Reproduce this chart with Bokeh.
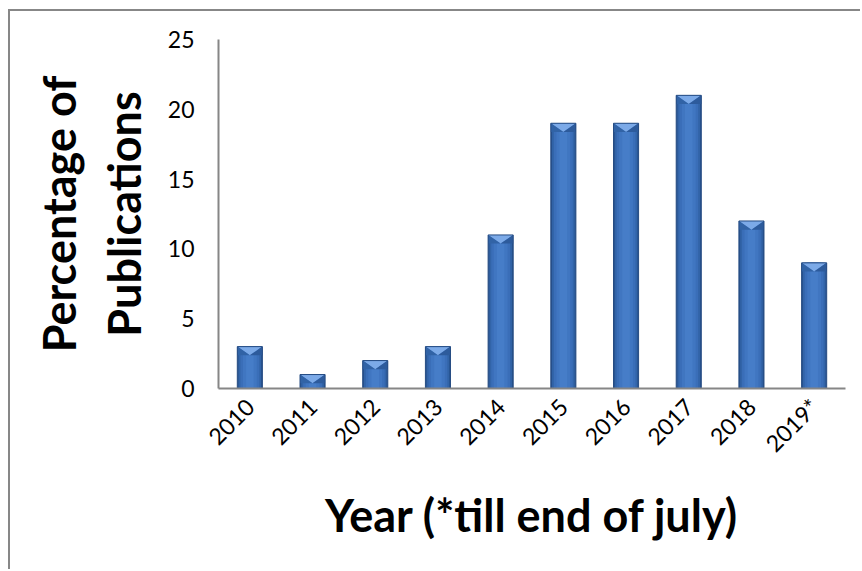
from bokeh.plotting import figure
from bokeh.models import FixedTicker, Range1d
from bokeh.embed import file_html
from bokeh.resources import INLINE
import math

years = ["2010", "2011", "2012", "2013", "2014", "2015", "2016", "2017", "2018", "2019*"]
percent = [3, 1, 2, 3, 11, 19, 19, 21, 12, 9]
y_ticks = [0, 5, 10, 15, 20, 25]

xs = list(range(1, len(years) + 1))

p = figure(width=852, height=560, output_backend="svg", toolbar_location=None,
           x_range=Range1d(0.5, len(years) + 0.5), y_range=Range1d(0, 25),
           min_border_left=208, min_border_right=17, min_border_top=28, min_border_bottom=183)
p.styles = {"border-left": "2px solid #878787", "border-top": "2px solid #878787",
            "margin-left": "8px", "margin-top": "9px"}
p.outline_line_color = None
p.xgrid.grid_line_color = None
p.ygrid.grid_line_color = None
p.background_fill_color = "white"
p.border_fill_color = "white"

# bars: layered to imitate the shaded cylinder look
bw = 0.4
layers = [(0.40, "#27518C"), (0.36, "#3264A8"), (0.30, "#3A6EB8"), (0.22, "#4076C1"), (0.12, "#467DC8")]
for w, c in layers:
    p.vbar(x=xs, top=percent, width=w, bottom=0, fill_color=c, line_color=None)

# top bevel
d = 0.62
tri_x = [[x - bw / 2, x + bw / 2, x] for x in xs]
tri_y = [[v, v, max(v - d, 0)] for v in percent]
p.patches(tri_x, tri_y, fill_color="#7CAAE8", line_color=None)
left_x = [[x - bw / 2, x, x - bw / 2] for x in xs]
left_y = [[v, max(v - d, 0), max(v - d, 0)] for v in percent]
p.patches(left_x, left_y, fill_color="#3163A6", line_color=None)
right_x = [[x + bw / 2, x, x + bw / 2] for x in xs]
p.patches(right_x, left_y, fill_color="#2D5B9C", line_color=None)
p.vbar(x=xs, top=percent, width=bw, bottom=0, fill_color=None, line_color="#264C83", line_width=1)

# axes
p.yaxis.ticker = FixedTicker(ticks=y_ticks)
p.xaxis.ticker = FixedTicker(ticks=xs)
p.xaxis.major_label_overrides = {x: y for x, y in zip(xs, years)}
p.xaxis.major_label_orientation = math.pi / 4
for ax in (p.xaxis, p.yaxis):
    ax.axis_line_color = "#868686"
    ax.axis_line_width = 2
    ax.major_tick_line_color = None
    ax.minor_tick_line_color = None
    ax.major_tick_out = 0
    ax.major_tick_in = 0
    ax.major_label_text_font = "Lato"
    ax.major_label_text_font_size = "23px"
    ax.major_label_text_color = "black"
    ax.axis_label_text_font = "Lato"
    ax.axis_label_text_font_style = "bold"
    ax.axis_label_text_font_size = "45px"
    ax.axis_label_text_color = "black"

p.yaxis.major_label_standoff = 24
p.xaxis.major_label_standoff = 14
p.xaxis.axis_label = "Year (*till end of july)"
p.yaxis.axis_label = "Percentage of\nPublications"
p.xaxis.axis_label_standoff = 18
p.yaxis.axis_label_standoff = 14

open("out.html", "w").write(file_html(p, INLINE))
